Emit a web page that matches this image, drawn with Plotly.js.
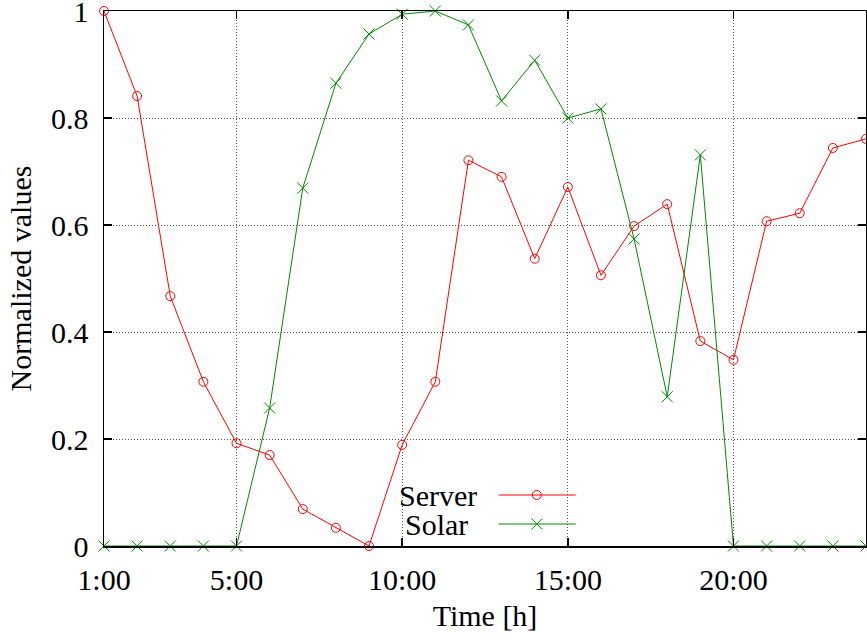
<!DOCTYPE html>
<html>
<head>
<meta charset="utf-8">
<script src="https://cdn.plot.ly/plotly-3.0.1.min.js"></script>
<style>html,body{margin:0;padding:0;background:#fff;}#chart{width:867px;height:642px;}</style>
</head>
<body>
<div id="chart"></div>
<script>
const hours = [1,2,3,4,5,6,7,8,9,10,11,12,13,14,15,16,17,18,19,20,21,22,23,24];
const server = [1.0,0.841,0.467,0.307,0.192,0.170,0.069,0.034,0.0,0.189,0.307,0.721,0.690,0.537,0.671,0.506,0.598,0.639,0.383,0.348,0.607,0.622,0.744,0.761];
const solar = [0,0,0,0,0,0.258,0.669,0.865,0.957,0.994,1.0,0.974,0.832,0.908,0.800,0.817,0.574,0.279,0.731,0,0,0,0,0];
const xTickVals = [1,5,10,15,20];
const xTickText = ['1:00','5:00','10:00','15:00','20:00'];
const yTickVals = [0,0.2,0.4,0.6,0.8,1];
const yTickText = ['0','0.2','0.4','0.6','0.8','1'];
const seriesNames = ['Server','Solar'];

const FONT = 'Liberation Serif, Times New Roman, serif';
const RED = '#ff0000';
const GREEN = '#008a00';

const traces = [
  {x: hours, y: server, name: seriesNames[0], mode: 'lines+markers', cliponaxis: false,
   line: {color: RED, width: 1}, marker: {symbol: 'circle-open', size: 9, color: RED, line: {width: 1, color: RED}}},
  {x: hours, y: solar, name: seriesNames[1], mode: 'lines+markers', cliponaxis: false,
   line: {color: GREEN, width: 1}, marker: {symbol: 'x-thin-open', size: 11, color: GREEN, line: {width: 1, color: GREEN}}}
];

// gnuplot-style legend (text left of sample)
const legX0 = 0.518, legX1 = 0.619, legXc = 0.568;
const legY = [0.0953, 0.0411];
const shapes = [
  {type: 'line', xref: 'paper', yref: 'paper', x0: legX0, x1: legX1, y0: legY[0], y1: legY[0], line: {color: RED, width: 1}},
  {type: 'circle', xref: 'paper', yref: 'paper', xsizemode: 'pixel', ysizemode: 'pixel', xanchor: legXc, yanchor: legY[0],
   x0: -4.5, x1: 4.5, y0: -4.5, y1: 4.5, line: {color: RED, width: 1}, fillcolor: 'rgba(0,0,0,0)'},
  {type: 'line', xref: 'paper', yref: 'paper', x0: legX0, x1: legX1, y0: legY[1], y1: legY[1], line: {color: GREEN, width: 1}},
  {type: 'line', xref: 'paper', yref: 'paper', xsizemode: 'pixel', ysizemode: 'pixel', xanchor: legXc, yanchor: legY[1],
   x0: -5.5, x1: 5.5, y0: -5.5, y1: 5.5, line: {color: GREEN, width: 1}},
  {type: 'line', xref: 'paper', yref: 'paper', xsizemode: 'pixel', ysizemode: 'pixel', xanchor: legXc, yanchor: legY[1],
   x0: -5.5, x1: 5.5, y0: 5.5, y1: -5.5, line: {color: GREEN, width: 1}}
];
const annotations = [
  {xref: 'paper', yref: 'paper', x: 0.492, y: legY[0], xanchor: 'right', yanchor: 'middle', showarrow: false,
   height: 27, text: seriesNames[0], font: {family: FONT, size: 30, color: '#000'}},
  {xref: 'paper', yref: 'paper', x: 0.480, y: legY[1], xanchor: 'right', yanchor: 'middle', showarrow: false,
   height: 27, text: seriesNames[1], font: {family: FONT, size: 30, color: '#000'}}
];

const axisCommon = {
  showline: true, linecolor: '#000', linewidth: 1.5, mirror: 'allticks',
  ticks: 'inside', ticklen: 8, tickwidth: 1.5, tickcolor: '#000',
  showgrid: true, gridcolor: '#555', gridwidth: 1, griddash: '1px,2px',
  zeroline: false, ticklabeloverflow: 'allow',
  tickfont: {family: FONT, size: 30, color: '#000'}
};

const layout = {
  width: 867, height: 642,
  margin: {l: 104, r: 1, t: 11, b: 96},
  paper_bgcolor: '#fff', plot_bgcolor: '#fff',
  showlegend: false,
  font: {family: FONT, color: '#000'},
  xaxis: Object.assign({}, axisCommon, {
    range: [1, 24], tickmode: 'array', tickvals: xTickVals, ticktext: xTickText,
    ticklabelstandoff: 6,
    title: {text: 'Time [h]', font: {family: FONT, size: 30, color: '#000'}, standoff: 10}
  }),
  yaxis: Object.assign({}, axisCommon, {
    range: [0, 1], tickmode: 'array', tickvals: yTickVals, ticktext: yTickText,
    ticklabelstandoff: 8,
    title: {text: 'Normalized values', font: {family: FONT, size: 30, color: '#000'}, standoff: 10}
  }),
  shapes: shapes,
  annotations: annotations
};

Plotly.newPlot('chart', traces, layout, {displayModeBar: false, staticPlot: true});
</script>
</body>
</html>
